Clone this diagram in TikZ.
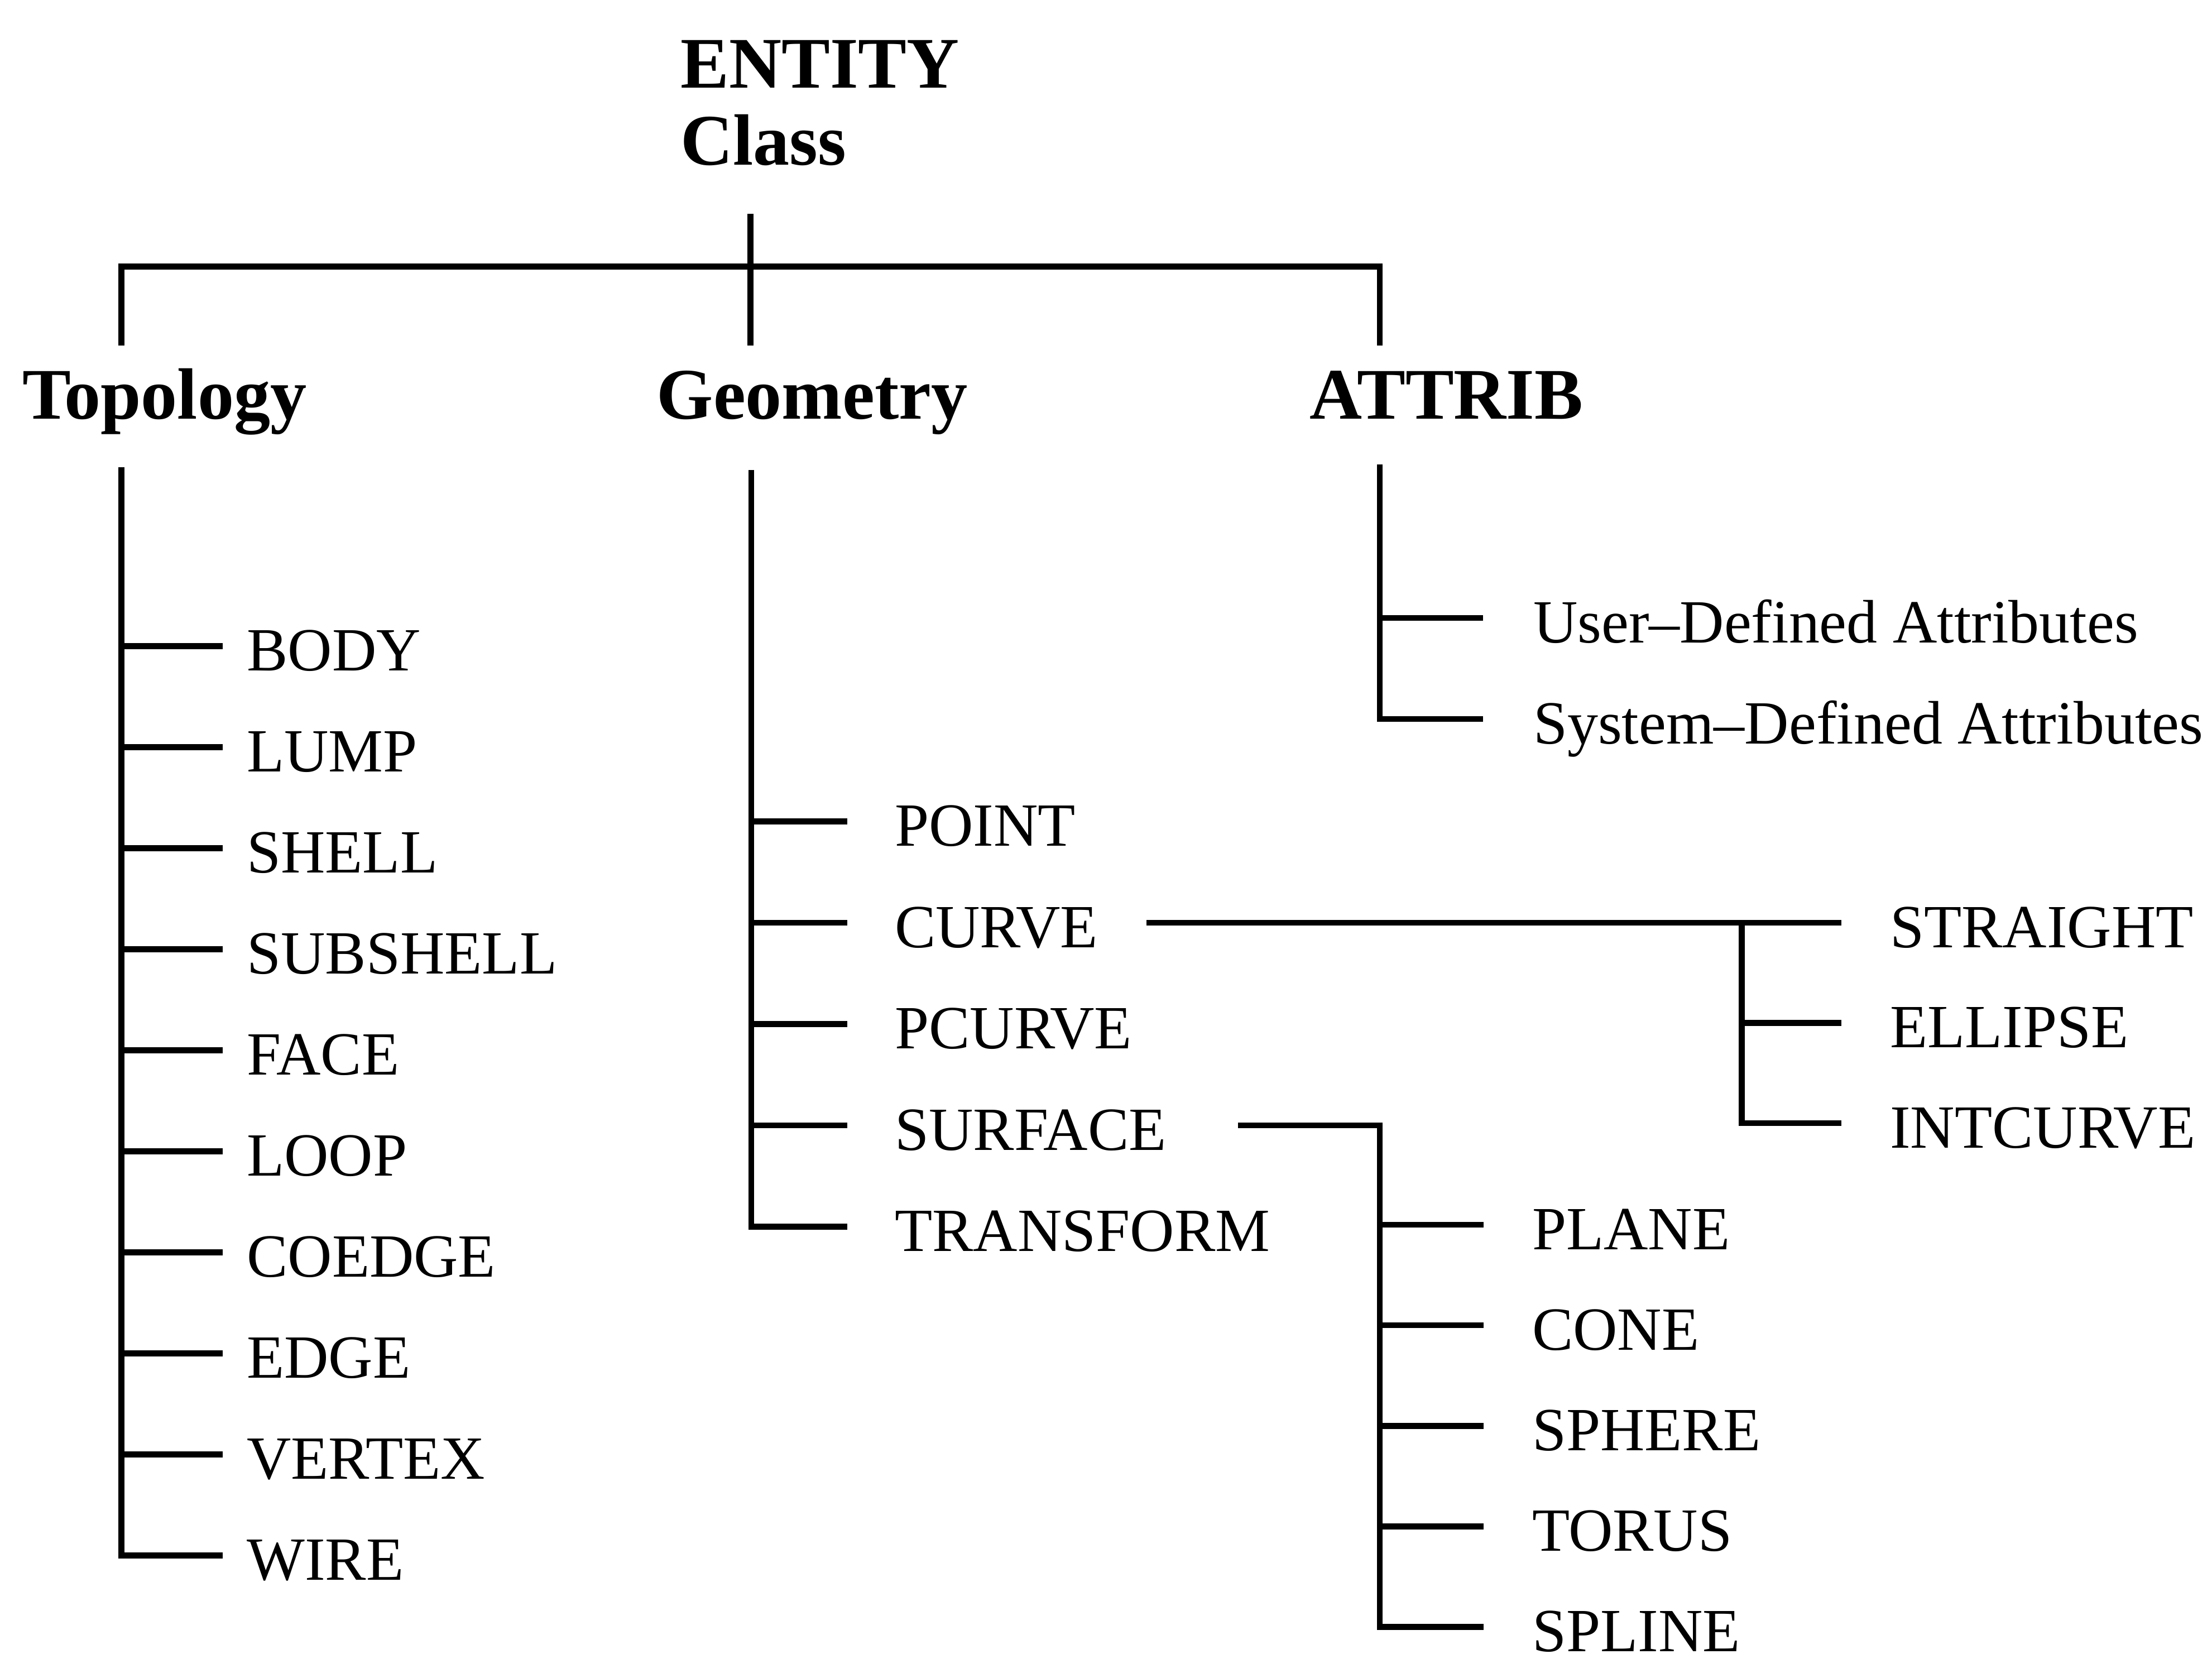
\documentclass[tikz,border=0pt]{standalone}
\usepackage{fontspec}
\setmainfont{Liberation Serif}
\newcommand\lblfont{\fontsize{43.5pt}{50pt}\selectfont}
\newcommand\hdfont{\fontsize{51.5pt}{58pt}\selectfont\bfseries}
\begin{document}
\begin{tikzpicture}[x=1pt,y=-1pt,line width=4.2pt,line join=miter,
  leaf/.style={anchor=west,inner sep=0pt,text height=35pt,text depth=0pt,font=\lblfont},
  head/.style={anchor=base west,inner sep=0pt,font=\hdfont}]
\useasboundingbox (0,0) rectangle (1568,1172);

% ---- headings ----
\node[head] (entity)   at (480.5,62.2) {ENTITY};
\node[head] (class)    at (480.5,116.9) {Class};
\node[head] (topology) at (13.9,296.8) {Topology};
\node[head] (geometry) at (463.5,297) {Geometry};
\node[head] (attrib)   at (926.5,297) {ATTRIB};

% ---- top level tree ----
\coordinate (rootT) at (532,151.6);
\coordinate (rootB) at (532,245);
\coordinate (bar)   at (532,189);
\coordinate (barL)  at (86,245);
\coordinate (barR)  at (978,245);
\draw (rootT) -- (rootB);
\draw (barL) |- (bar) -| (barR);

% ---- topology classes ----
\coordinate (tstem) at (86,331);
\foreach \n/\t [count=\i from 0] in {body/BODY,lump/LUMP,shell/SHELL,subshell/SUBSHELL,
    face/FACE,loop/LOOP,coedge/COEDGE,edge/EDGE,vertex/VERTEX,wire/WIRE}{
  \node[leaf] (\n) at (172.9,458+71.6*\i) {\t};
  \draw (tstem |- \n.west) -- ([xshift=-15.2pt]\n.west);
}
\draw (tstem) |- ([xshift=-15.2pt]wire.west);

% ---- geometry classes ----
\coordinate (gstem) at (532.5,333);
\foreach \n/\t [count=\i from 0] in {point/POINT,curve/CURVE,pcurve/PCURVE,
    surface/SURFACE,transform/TRANSFORM}{
  \node[leaf] (\n) at (632.2,582.2+71.8*\i) {\t};
  \draw (gstem |- \n.west) -- ([xshift=-31.5pt]\n.west);
}
\draw (gstem) |- ([xshift=-31.5pt]transform.west);

% ---- curve subclasses ----
\node[leaf] (straight) at (1337.7,654) {STRAIGHT};
\node[leaf] (ellipse)  at (1337.7,725) {ELLIPSE};
\node[leaf] (intcurve) at (1337.7,796) {INTCURVE};
\coordinate (cstem) at (1234.7,654);
\draw ([xshift=32.5pt]curve.east) -- ([xshift=-32.5pt]straight.west);
\draw (cstem |- ellipse.west) -- ([xshift=-32.5pt]ellipse.west);
\draw (cstem) |- ([xshift=-32.5pt]intcurve.west);

% ---- surface subclasses ----
\coordinate (sstem) at (978,0);
\foreach \n/\t [count=\i from 0] in {plane/PLANE,cone/CONE,sphere/SPHERE,
    torus/TORUS,spline/SPLINE}{
  \node[leaf] (\n) at (1084,868+71.3*\i) {\t};
  \draw (sstem |- \n.west) -- ([xshift=-32.5pt]\n.west);
}
\draw ([xshift=48.5pt]surface.east) -- (sstem |- surface.east)
  |- ([xshift=-32.5pt]spline.west);

% ---- attributes ----
\coordinate (astem) at (978,329);
\node[leaf] (userattr) at (1084.8,438) {User–Defined Attributes};
\node[leaf] (sysattr)  at (1084.8,509.6) {System–Defined Attributes};
\draw (astem |- userattr.west) -- ([xshift=-33.5pt]userattr.west);
\draw (astem) |- ([xshift=-33.5pt]sysattr.west);
\end{tikzpicture}
\end{document}
